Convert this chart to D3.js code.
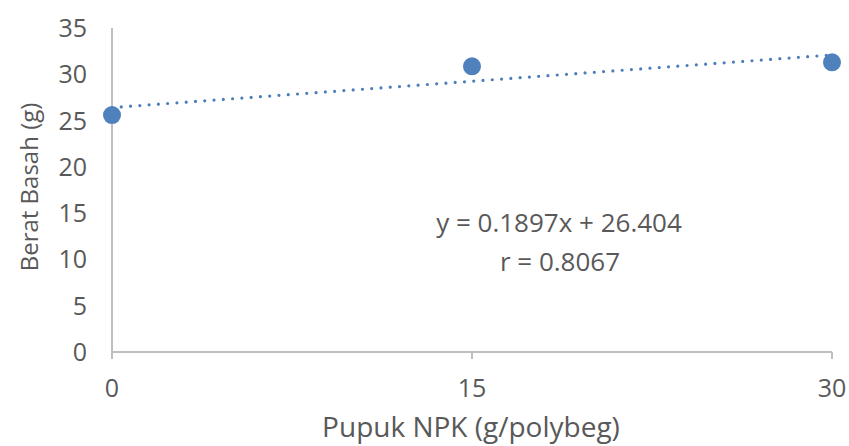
<!DOCTYPE html>
<html>
<head>
<meta charset="utf-8">
<script src="https://cdn.jsdelivr.net/npm/d3@7"></script>
<style>
body{margin:0;background:#fff;}
text{font-family:"Open Sans","Liberation Sans",sans-serif;fill:#595959;}
</style>
</head>
<body>
<script>
// data
var pupuk = [0, 15, 30];
var berat = [25.6, 30.86, 31.29];
var yTicks = [0, 5, 10, 15, 20, 25, 30, 35];
var trend = {slope: 0.1897, intercept: 26.404, r: 0.8067};

var w = 849, h = 446;
var svg = d3.select("body").append("svg")
	.attr("width", w)
	.attr("height", h);

var x = d3.scaleLinear().domain([0, 30]).range([112, 832]);
var y = d3.scaleLinear().domain([0, 35]).range([352, 28]);

// x axis
svg.append("line")
	.attr("x1", x(0)).attr("x2", x(30))
	.attr("y1", y(0)).attr("y2", y(0))
	.attr("stroke", "#bfbfbf").attr("stroke-width", 2);
svg.selectAll(".xtick").data(pupuk).enter().append("line")
	.attr("x1", d => x(d)).attr("x2", d => x(d))
	.attr("y1", y(0)).attr("y2", y(0) + 7)
	.attr("stroke", "#bfbfbf").attr("stroke-width", 2);
svg.selectAll(".xlab").data(pupuk).enter().append("text")
	.attr("x", d => x(d)).attr("y", 397)
	.attr("text-anchor", "middle")
	.attr("font-size", 25)
	.text(d => d);

// y axis
svg.append("line")
	.attr("x1", x(0)).attr("x2", x(0))
	.attr("y1", y(0)).attr("y2", y(35))
	.attr("stroke", "#bfbfbf").attr("stroke-width", 2);
svg.selectAll(".ylab").data(yTicks).enter().append("text")
	.attr("x", 87).attr("y", d => y(d) + 9)
	.attr("text-anchor", "end")
	.attr("font-size", 25)
	.text(d => d);

// titles
svg.append("text")
	.attr("x", 471).attr("y", 437)
	.attr("text-anchor", "middle")
	.attr("font-size", 28)
	.text("Pupuk NPK (g/polybeg)");
svg.append("text")
	.attr("transform", "translate(38,187) rotate(-90)")
	.attr("text-anchor", "middle")
	.attr("font-size", 24)
	.text("Berat Basah (g)");

// trendline (dotted)
svg.append("line")
	.attr("x1", x(0)).attr("y1", y(trend.intercept))
	.attr("x2", x(30)).attr("y2", y(trend.intercept + trend.slope * 30))
	.attr("stroke", "#4a7ebb").attr("stroke-width", 3.2)
	.attr("stroke-dasharray", "0 9.3").attr("stroke-linecap", "round");

// points
svg.selectAll(".pt").data(pupuk).enter().append("circle")
	.attr("cx", d => x(d)).attr("cy", (d, i) => y(berat[i]))
	.attr("r", 9)
	.attr("fill", "#4f81bd");

// equation
svg.append("text")
	.attr("x", 559).attr("y", 232)
	.attr("text-anchor", "middle")
	.attr("font-size", 26)
	.text("y = " + trend.slope + "x + " + trend.intercept);
svg.append("text")
	.attr("x", 560).attr("y", 271)
	.attr("text-anchor", "middle")
	.attr("font-size", 26)
	.text("r = " + trend.r);
</script>
</body>
</html>
